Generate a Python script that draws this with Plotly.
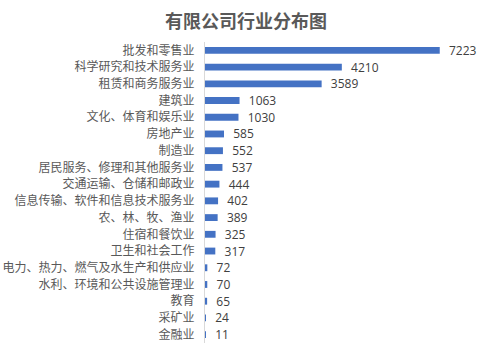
import plotly.graph_objects as go

categories = ["批发和零售业", "科学研究和技术服务业", "租赁和商务服务业", "建筑业", "文化、体育和娱乐业",
              "房地产业", "制造业", "居民服务、修理和其他服务业", "交通运输、仓储和邮政业",
              "信息传输、软件和信息技术服务业", "农、林、牧、渔业", "住宿和餐饮业", "卫生和社会工作",
              "电力、热力、燃气及水生产和供应业", "水利、环境和公共设施管理业", "教育", "采矿业", "金融业"]
values = [7223, 4210, 3589, 1063, 1030, 585, 552, 537, 444, 402, 389, 325, 317, 72, 70, 65, 24, 11]
title_text = "有限公司行业分布图"

font_family = "Noto Sans CJK SC, Microsoft YaHei, sans-serif"

fig = go.Figure(go.Bar(
    x=values, y=categories, orientation="h",
    marker=dict(color="#4472C4", line=dict(width=0)),
    text=["  " + str(v) for v in values], textposition="outside",
    textfont=dict(size=12, color="#404040", family="Open Sans, sans-serif"),
    constraintext="none",
    cliponaxis=False,
    width=0.41,
))

fig.update_layout(
    width=492, height=364,
    margin=dict(l=205, r=27, t=42, b=21),
    paper_bgcolor="white", plot_bgcolor="white",
    title=dict(text=title_text, x=0.5, xanchor="center", y=0.94, yanchor="middle",
               font=dict(size=18, color="#595959", family=font_family, weight="bold")),
    showlegend=False,
    font=dict(family=font_family),
)
fig.update_xaxes(range=[0, 8000], visible=False, showgrid=False)
fig.update_yaxes(autorange="reversed", showline=True, linecolor="#D9D9D9", linewidth=1,
                 tickfont=dict(size=12, color="#595959", family=font_family),
                 ticks="outside", ticklen=7, tickcolor="rgba(0,0,0,0)", showgrid=False,
                 automargin=False)

fig.write_html("out.html")
